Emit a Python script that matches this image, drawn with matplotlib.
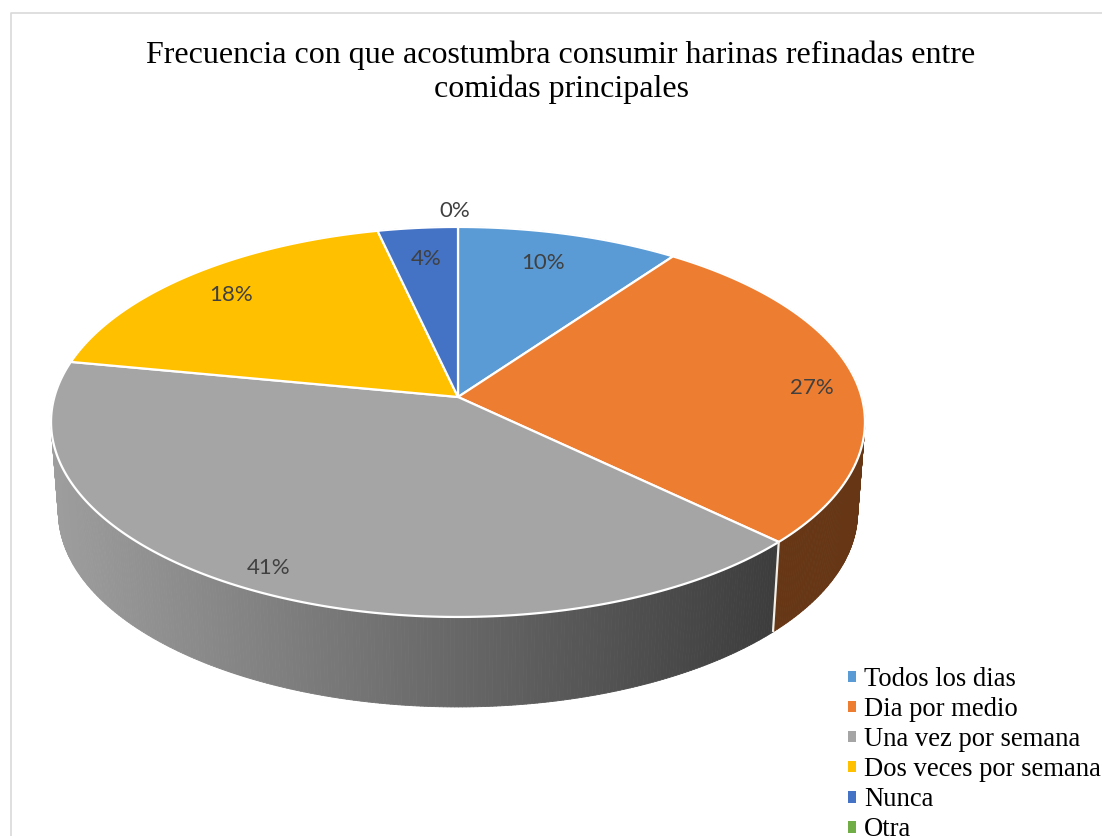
"""
plot.py  --  3D looking pie chart, harinas refinadas entre comidas
The tilted pie is a unit circle pushed through a small perspective projection.
"""
import numpy as np
import matplotlib
matplotlib.use('Agg')
import matplotlib.pyplot as plt
from matplotlib.collections import PolyCollection
from matplotlib.patches import Patch, Polygon

TITLE = 'Frecuencia con que acostumbra consumir harinas refinadas entre\ncomidas principales'
categories = ['Todos los dias', 'Dia por medio', 'Una vez por semana',
              'Dos veces por semana', 'Nunca', 'Otra']
values = [10.0, 27.1, 40.9, 18.4, 3.6, 0.0]
colors = ['#5b9bd5', '#ed7d31', '#a5a5a5', '#ffc000', '#4472c4', '#70ad47']

# layout, in image pixels
W, H = 1102, 836
CX, CY = 458, 397          # pie apex
A, B, K = 403.6, 191.8, 0.128   # projection of the circle
DROP = 90                  # thickness of the pie
WALL_X = 0.982             # bottom rim is a bit narrower
LABEL_R = [0.80, 0.88, 0.92, 0.83, 0.80, 1.10]
LABEL_NUDGE = [(-6, -1), (4, 6), (0, -4), (-2, 1), (1, 0), (-3, -1)]


def project(theta, r=1.0, drop=0.0, xscale=1.0):
    """Clockwise angle from 12 o'clock (radians) -> pixel coordinates."""
    u = r * np.sin(theta)
    v = r * np.cos(theta)
    w = 1 + K * v
    return CX + xscale * A * u / w, CY - B * v / w + drop


def wall_shade(x, i):
    # the side gets darker from left to right
    if i == 1:
        return 0.43
    t = (x - 57) / (772 - 57)
    return 0.95 - 0.58 * t


fig = plt.figure(figsize=(W / 100, H / 100), dpi=100)
ax = fig.add_axes([0, 0, 1, 1])
ax.set_xlim(0, W)
ax.set_ylim(H, 0)
ax.axis('off')

# chart border, only left and top fall inside the crop
ax.plot([10.5, 10.5, W], [H, 12.5, 12.5], color='#d9d9d9', lw=1.2)

fractions = np.array(values) / sum(values)
edges = np.concatenate([[0], np.cumsum(fractions)]) * 2 * np.pi

# side wall, narrow facets so the shading looks continuous
facets, facet_colors = [], []
for i, base in enumerate(colors):
    if values[i] == 0:
        continue
    n = max(int((edges[i + 1] - edges[i]) * 120), 2)
    th = np.linspace(edges[i], edges[i + 1], n + 1)
    for a, b in zip(th[:-1], th[1:]):
        x0, y0 = project(a)
        x1, y1 = project(b)
        x2, y2 = project(b, drop=DROP, xscale=WALL_X)
        x3, y3 = project(a, drop=DROP, xscale=WALL_X)
        facets.append([(x0, y0), (x1, y1), (x2, y2), (x3, y3)])
        rgb = np.array(matplotlib.colors.to_rgb(base))
        facet_colors.append(tuple(np.clip(rgb * wall_shade((x0 + x1) / 2, i), 0, 1)))
ax.add_collection(PolyCollection(facets, facecolors=facet_colors,
                                 edgecolors=facet_colors, linewidths=0.6))

# white seam between the two visible walls
xa, ya = project(edges[2])
xb, yb = project(edges[2], drop=DROP, xscale=WALL_X)
ax.plot([xa, xb], [ya, yb], color='#f2efe8', lw=1.6, solid_capstyle='butt')

# top of the pie
for i, base in enumerate(colors):
    if values[i] == 0:
        continue
    th = np.linspace(edges[i], edges[i + 1], 200)
    x, y = project(th)
    pts = np.column_stack([np.r_[CX, x], np.r_[CY, y]])
    ax.add_patch(Polygon(pts, closed=True, facecolor=base, edgecolor='white',
                         lw=1.6, joinstyle='round'))

# percent labels
for i, val in enumerate(values):
    mid = (edges[i] + edges[i + 1]) / 2
    lx, ly = project(mid, r=LABEL_R[i])
    ax.text(lx + LABEL_NUDGE[i][0], ly + LABEL_NUDGE[i][1], f'{val:.0f}%',
            ha='center', va='center', color='#404040', fontsize=16, family='Lato')

ax.text(561, 72, TITLE, ha='center', va='center', fontsize=23,
        family='Liberation Serif', color='black', linespacing=1.22)

handles = [Patch(facecolor=c, edgecolor='none') for c in colors]
ax.legend(handles, categories, loc='upper left', bbox_to_anchor=(848 / W, 1 - 667 / H),
          frameon=False, prop={'family': 'Liberation Serif', 'size': 19.2},
          handlelength=0.3, handleheight=0.3, handletextpad=0.3,
          labelspacing=0.19, borderaxespad=0, borderpad=0)

fig.savefig('out.png', dpi=100)
